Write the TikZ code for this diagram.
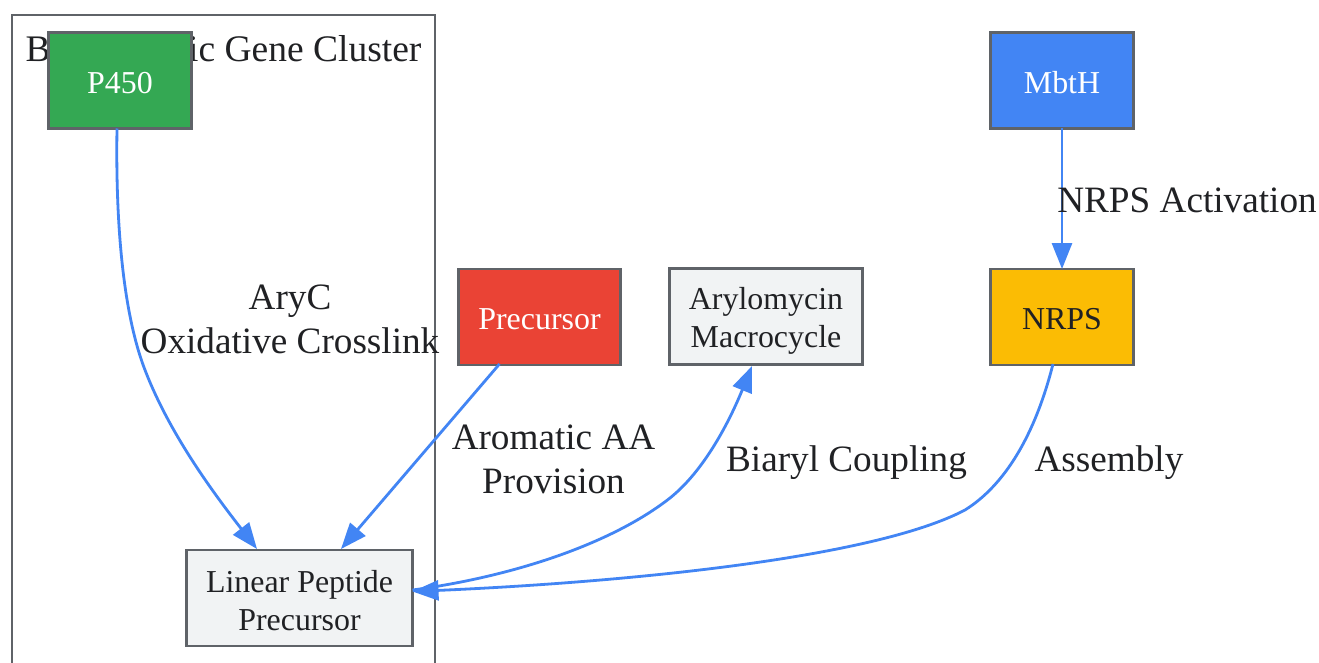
\documentclass[tikz,border=0pt]{standalone}
\usepackage{fontspec}
\setmainfont{Liberation Serif}
\usetikzlibrary{arrows.meta,calc}
\definecolor{inkc}{HTML}{202124}
\definecolor{linec}{HTML}{5F6368}
\definecolor{edgec}{HTML}{4285F4}
\definecolor{greyf}{HTML}{F1F3F4}
\definecolor{greenf}{HTML}{34A853}
\definecolor{redf}{HTML}{EA4335}
\definecolor{yellowf}{HTML}{FBBC04}
\newcommand{\toppad}[1]{\rule{0pt}{#1pt}}
\tikzset{
  boxnode/.style={draw=linec,line width=2.8pt,rectangle,inner sep=0pt,outer sep=0pt,align=center,text=inkc,font=\fontsize{31.9}{38}\selectfont},
  edgeline/.style={draw=edgec,line width=2.8pt,-{Triangle[length=26pt,width=20pt,fill=edgec]}},
  edgelabel/.style={text=inkc,align=center,inner sep=0pt,font=\fontsize{37.2}{44}\selectfont},
}
\begin{document}
\begin{tikzpicture}[x=1pt,y=-1pt]
\useasboundingbox (0,0) rectangle (1319,663);
\fill[white] (0,0) rectangle (1319,663);
\coordinate (cl) at (12,15);
\draw[linec,line width=2.8pt] (12,675) -- (cl) -- (435,15) -- (435,675);
\node[edgelabel,font=\fontsize{37.5}{44}\selectfont] (title) at (223.5,53) {Biosynthetic Gene Cluster};
\node[boxnode,fill=greenf,text=white,minimum width=143pt,minimum height=96pt] (p450) at (120,80.5) {\toppad{25.5}P450};
\node[boxnode,fill=edgec,text=white,minimum width=143pt,minimum height=96pt] (mbth) at (1062,80.5) {\toppad{26}MbtH};
\node[boxnode,fill=yellowf,minimum width=143pt,minimum height=96pt] (nrps) at (1062,317) {\toppad{26}NRPS};
\node[boxnode,fill=redf,text=white,minimum width=162pt,minimum height=96pt] (prec) at (539.5,317) {\toppad{26}Precursor};
\node[boxnode,fill=greyf,minimum width=193pt,minimum height=96pt] (aryl) at (766,316.5) {\toppad{31.5}Arylomycin\\Macrocycle};
\node[boxnode,fill=greyf,minimum width=226pt,minimum height=96pt] (lin) at (299.5,598) {\toppad{26.5}Linear Peptide\\Precursor};
\draw[edgeline] ([xshift=-3pt]p450.south) .. controls (116,190) and (118,300) .. (145,370) .. controls (170,435) and (215,495) .. ([xshift=-42.5pt,yshift=1pt]lin.north);
\draw[edgeline] ([xshift=-40pt,yshift=1pt]prec.south) -- ([xshift=41.5pt,yshift=1pt]lin.north);
\draw[edgeline] ([yshift=8pt]lin.east) .. controls (510,577) and (610,545) .. (670,498) .. controls (705,470) and (730,420) .. ([xshift=-14pt,yshift=-1.5pt]aryl.south);
\draw[edgeline] ([xshift=-9pt,yshift=1pt]nrps.south) .. controls (1035,435) and (1005,485) .. (965,510) .. controls (870,560) and (610,583) .. ([yshift=6.5pt]lin.east);
\draw[edgeline] (mbth.south) -- (nrps.north);
\node[edgelabel] (l1) at (290,319.5) {AryC\\Oxidative Crosslink};
\node[edgelabel] (l2) at (553.5,459) {Aromatic AA\\Provision};
\node[edgelabel] (l3) at (846.5,463) {Biaryl Coupling};
\node[edgelabel] (l4) at (1109,463) {Assembly};
\node[edgelabel] (l5) at (1187,200) {NRPS Activation};
\end{tikzpicture}
\end{document}
